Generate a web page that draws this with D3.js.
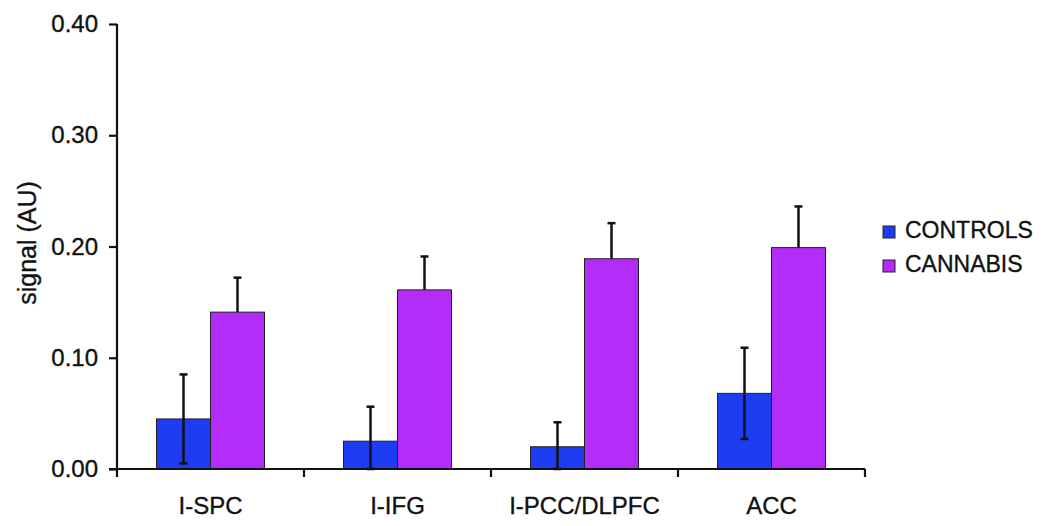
<!DOCTYPE html>
<html>
<head>
<meta charset="utf-8">
<script src="https://cdn.jsdelivr.net/npm/d3@7"></script>
<style>
  html, body { margin: 0; padding: 0; background: #fff; }
  svg { display: block; font-family: Arial, "Liberation Sans", sans-serif; }
  text { stroke: #111; stroke-width: 0.35px; }
</style>
</head>
<body>
<svg id="chart" width="1050" height="526"></svg>
<script>
const categories = ["I-SPC", "I-IFG", "I-PCC/DLPFC", "ACC"];
const seriesNames = ["CONTROLS", "CANNABIS"];
const controls = [0.045, 0.025, 0.020, 0.068];
const controlsErr = [0.040, 0.031, 0.022, 0.041];
const cannabis = [0.141, 0.161, 0.189, 0.199];
const cannabisErr = [0.031, 0.030, 0.032, 0.037];
const yTicks = [0.00, 0.10, 0.20, 0.30, 0.40];
const colors = ["#1e3cf2", "#b42cf8"];

const svg = d3.select("#chart");
const mLeft = 117, mRight = 865, mTop = 24, mBottom = 469;

const x = d3.scaleBand().domain(categories).range([mLeft, mRight])
  .paddingInner(0.4225).paddingOuter(0.21125);
const x1 = d3.scaleBand().domain(seriesNames).range([0, x.bandwidth()]).padding(0);
const y = d3.scaleLinear().domain([0, 0.4]).range([mBottom, mTop]);

const series = [
  { name: seriesNames[0], values: controls, errs: controlsErr, color: colors[0], both: true },
  { name: seriesNames[1], values: cannabis, errs: cannabisErr, color: colors[1], both: false }
];

const rows = [];
series.forEach(s => categories.forEach((c, i) => rows.push({ cat: c, s, v: s.values[i], e: s.errs[i] })));

// bars
svg.append("g").selectAll("rect").data(rows).join("rect")
  .attr("x", d => x(d.cat) + x1(d.s.name))
  .attr("y", d => y(d.v))
  .attr("width", x1.bandwidth())
  .attr("height", d => y(0) - y(d.v))
  .attr("fill", d => d.s.color)
  .attr("stroke", "#222")
  .attr("stroke-width", 1);

// error bars
const eg = svg.append("g").attr("stroke", "#111").attr("stroke-width", 2.5);
rows.forEach(d => {
  const cx = x(d.cat) + x1(d.s.name) + x1.bandwidth() / 2;
  const yTop = y(d.v + d.e);
  const yBot = d.s.both ? y(Math.max(0, d.v - d.e)) : y(d.v);
  eg.append("line").attr("x1", cx).attr("x2", cx).attr("y1", yTop).attr("y2", yBot);
  eg.append("line").attr("x1", cx - 4).attr("x2", cx + 4).attr("y1", yTop).attr("y2", yTop);
  if (d.s.both) eg.append("line").attr("x1", cx - 4).attr("x2", cx + 4).attr("y1", yBot).attr("y2", yBot);
});

// y axis
const yAxis = svg.append("g").attr("transform", `translate(${mLeft},0)`)
  .call(d3.axisLeft(y).tickValues(yTicks).tickFormat(d3.format(".2f")).tickSize(8).tickPadding(11));
yAxis.select(".domain").attr("d", `M0,${mTop}V${mBottom + 4}`).attr("stroke", "#111").attr("stroke-width", 2.2);
yAxis.selectAll(".tick line").attr("stroke", "#111").attr("stroke-width", 2.2);
yAxis.selectAll(".tick text").attr("font-size", 24).attr("fill", "#111")
  .attr("font-family", "Arial, 'Liberation Sans', sans-serif");

// x axis (category boundaries)
const xg = svg.append("g");
xg.append("line").attr("x1", mLeft - 8).attr("x2", mRight).attr("y1", mBottom).attr("y2", mBottom)
  .attr("stroke", "#111").attr("stroke-width", 2.2);
const gap = (x.step() - x.bandwidth()) / 2;
const bounds = categories.map(c => x(c) - gap).concat([x(categories[categories.length - 1]) + x.bandwidth() + gap]);
xg.selectAll("line.tk").data(bounds).join("line").attr("class", "tk")
  .attr("x1", d => d).attr("x2", d => d).attr("y1", mBottom).attr("y2", mBottom + 8)
  .attr("stroke", "#111").attr("stroke-width", 2.2);
xg.selectAll("text").data(categories).join("text")
  .attr("x", d => x(d) + x.bandwidth() / 2)
  .attr("y", 514)
  .attr("text-anchor", "middle")
  .attr("font-size", 24)
  .attr("fill", "#111")
  .text(d => d);

// y label
svg.append("text")
  .attr("transform", `translate(36,${(183 + 303) / 2}) rotate(-90)`)
  .attr("text-anchor", "middle")
  .attr("font-size", 25)
  .attr("fill", "#111")
  .text("signal (AU)");

// legend
const lg = svg.append("g");
series.forEach((s, i) => {
  const by = 238 + i * 34;
  lg.append("rect").attr("x", 883).attr("y", by - 12).attr("width", 12).attr("height", 12)
    .attr("fill", s.color).attr("stroke", "#222").attr("stroke-width", 1);
  lg.append("text").attr("x", 905).attr("y", by).attr("font-size", 23).attr("fill", "#111").text(s.name);
});
</script>
</body>
</html>
